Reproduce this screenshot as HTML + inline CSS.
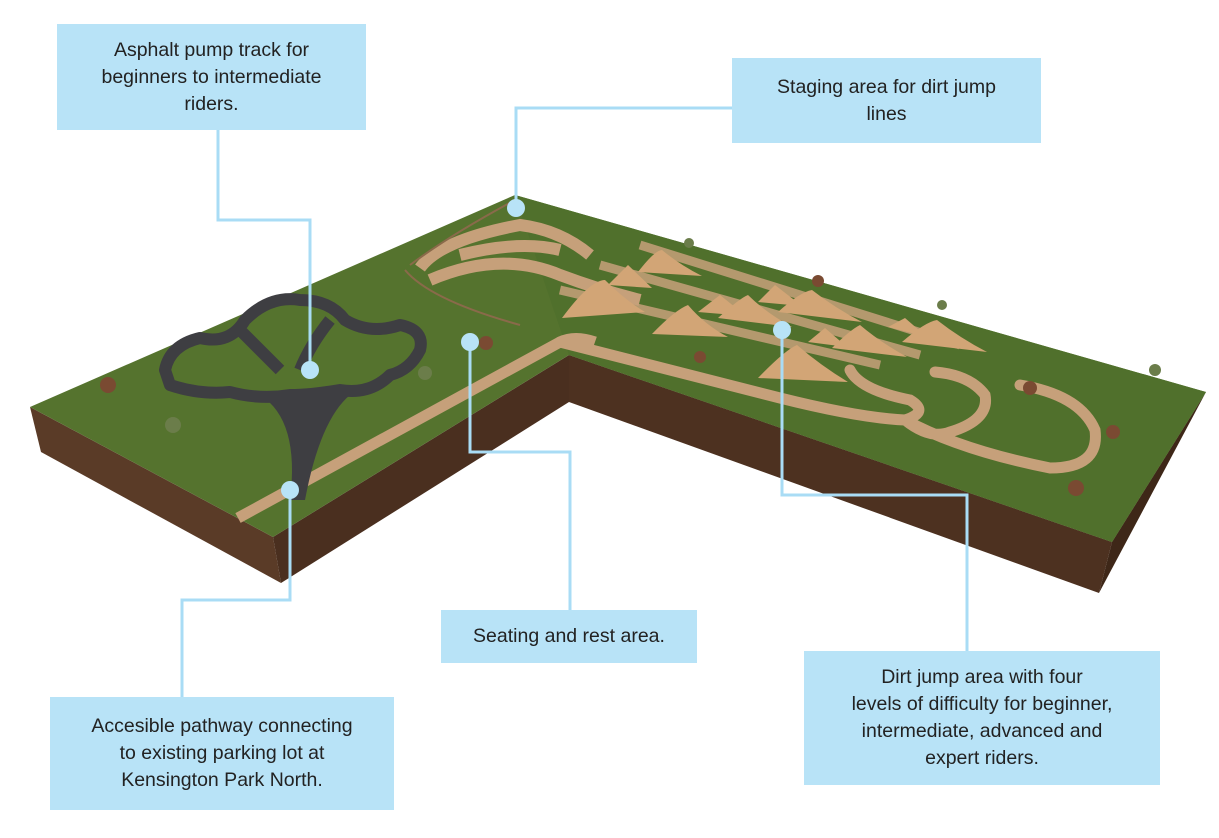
<!DOCTYPE html>
<html><head><meta charset="utf-8"><style>
html,body{margin:0;padding:0;background:#fff;}
body{width:1219px;height:838px;position:relative;overflow:hidden;font-family:"Liberation Sans",sans-serif;}
.box{position:absolute;background:#b8e3f7;color:#222;font-size:19.5px;line-height:27px;text-align:center;display:flex;align-items:center;justify-content:center;box-sizing:border-box;}
svg{position:absolute;left:0;top:0;}
</style></head><body>
<svg width="1219" height="838" viewBox="0 0 1219 838">
<polygon points="30,407 273,537 281,583 41,452" fill="#5a3b27"/>
<polygon points="273,537 569,355 569,402 281,583" fill="#4a2f1f"/>
<polygon points="569,355 1112,542 1099,593 569,402" fill="#4d3120"/>
<polygon points="1112,542 1206,392 1099,593" fill="#3e2718"/>
<polygon points="30,407 515,195 1206,392 1112,542 569,355 273,537" fill="#55732e"/>
<polygon points="515,195 1206,392 1112,542 569,355" fill="#50702c"/>
<path d="M238,518 L560,342 Q575,335 595,342" stroke="#c6a07a" stroke-width="11" fill="none"/>
<path d="M560,342 L780,398 Q860,418 905,420 Q930,412 910,400 Q860,390 850,370 M905,420 Q960,450 1050,468 Q1100,468 1095,430 Q1080,395 1020,385 M905,420 Q930,440 950,432 Q990,420 985,395 Q970,375 935,372" stroke="#c6a07a" stroke-width="11" fill="none" stroke-linecap="round"/>
<path d="M420,268 Q440,240 520,225 Q560,230 590,255 M430,280 Q500,250 560,275 Q600,290 640,300 M460,255 Q520,240 560,250" stroke="#c6a07a" stroke-width="12" fill="none"/>
<path d="M410,265 Q450,235 515,200" stroke="#8a6a4a" stroke-width="2" fill="none"/>
<path d="M405,270 Q430,300 520,325" stroke="#8a6a4a" stroke-width="2" fill="none"/>
<path d="M560,290 L880,365 M600,265 L920,355 M640,245 L960,345" stroke="#c6a07a" stroke-width="9" fill="none" opacity="0.85"/>
<g fill="#d2a576">
<path d="M562,318 Q590,280 605,280 Q625,300 645,312 Z"/>
<path d="M608,285 L628,265 L652,288 Z"/>
<path d="M638,272 Q655,250 662,250 Q680,265 702,276 Z"/>
<path d="M652,334 Q675,310 688,305 Q705,325 728,337 Z"/>
<path d="M698,312 L720,295 L746,316 Z"/>
<path d="M718,318 Q740,298 748,295 Q765,312 792,327 Z"/>
<path d="M758,302 L775,285 L802,306 Z"/>
<path d="M778,312 Q800,292 812,290 Q835,308 862,322 Z"/>
<path d="M758,378 Q785,350 797,345 Q820,365 848,382 Z"/>
<path d="M808,342 L825,328 L847,347 Z"/>
<path d="M832,348 Q850,330 860,325 Q880,342 907,357 Z"/>
<path d="M888,327 L905,318 L927,337 Z"/>
<path d="M902,342 Q925,322 937,320 Q960,338 987,352 Z"/>
</g>
<path d="M165,370 Q170,345 200,338 Q230,345 245,320 Q270,295 300,300 Q330,300 345,320 Q370,335 400,325 Q425,330 420,350 Q410,370 390,375 Q370,395 340,390 Q310,395 290,395 Q260,400 230,392 Q200,395 170,385 Z M240,330 Q260,350 280,370 M330,320 Q310,345 300,370" stroke="#3e3e42" stroke-width="12" fill="none" stroke-linejoin="round"/>
<path d="M260,395 Q300,420 290,500 L305,500 Q320,420 350,395 Z" fill="#3e3e42"/>
<g fill="#7a4a32"><circle cx="108" cy="385" r="8"/><circle cx="486" cy="343" r="7"/><circle cx="818" cy="281" r="6"/><circle cx="1030" cy="388" r="7"/><circle cx="1076" cy="488" r="8"/><circle cx="1113" cy="432" r="7"/><circle cx="700" cy="357" r="6"/></g>
<g fill="#6b7d4a"><circle cx="173" cy="425" r="8"/><circle cx="425" cy="373" r="7"/><circle cx="689" cy="243" r="5"/><circle cx="942" cy="305" r="5"/><circle cx="1155" cy="370" r="6"/></g>
<g stroke="#a9dcf5" stroke-width="3" fill="none">
<polyline points="218,130 218,220 310,220 310,370"/>
<polyline points="732,108 516,108 516,208"/>
<polyline points="470,342 470,452 570,452 570,610"/>
<polyline points="290,490 290,600 182,600 182,697"/>
<polyline points="782,330 782,495 967,495 967,651"/>
</g>
<g fill="#b8e3f7"><circle cx="310" cy="370" r="9"/><circle cx="516" cy="208" r="9"/><circle cx="470" cy="342" r="9"/><circle cx="290" cy="490" r="9"/><circle cx="782" cy="330" r="9"/></g>
</svg>
<div class="box" style="left:57px;top:24px;width:309px;height:106px;">Asphalt pump track for<br>beginners to intermediate<br>riders.</div>
<div class="box" style="left:732px;top:58px;width:309px;height:85px;">Staging area for dirt jump<br>lines</div>
<div class="box" style="left:441px;top:610px;width:256px;height:53px;">Seating and rest area.</div>
<div class="box" style="left:50px;top:697px;width:344px;height:113px;">Accesible pathway connecting<br>to existing parking lot at<br>Kensington Park North.</div>
<div class="box" style="left:804px;top:651px;width:356px;height:134px;">Dirt jump area with four<br>levels of difficulty for beginner,<br>intermediate, advanced and<br>expert riders.</div>
</body></html>
